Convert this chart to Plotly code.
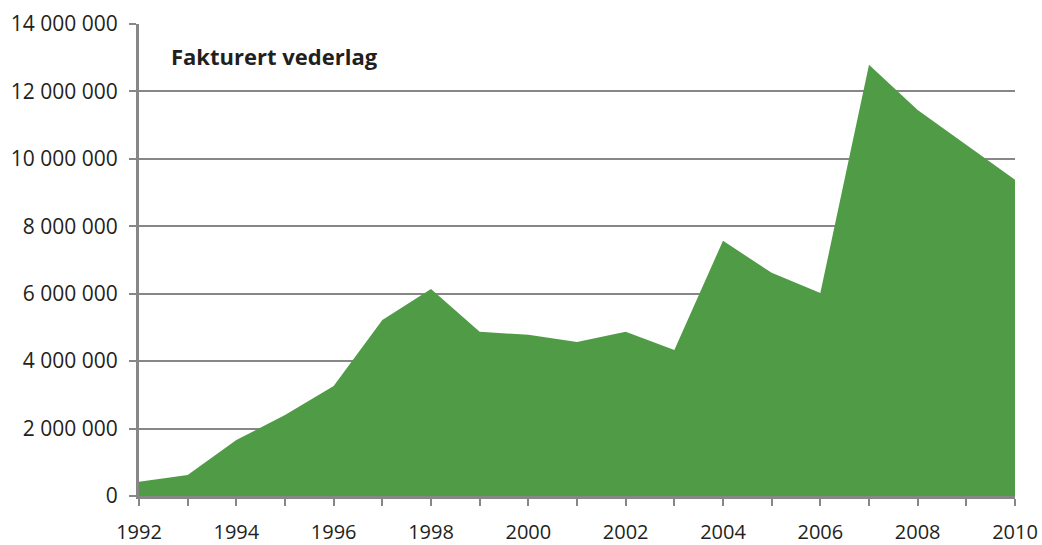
import plotly.graph_objects as go

years = list(range(1992, 2011))
values = [420000, 620000, 1660000, 2400000, 3260000, 5220000, 6140000, 4870000,
          4780000, 4570000, 4870000, 4330000, 7570000, 6620000, 6020000,
          12790000, 11450000, 10420000, 9380000]

x_tick_vals = list(range(1992, 2011, 2))
x_tick_text = [str(v) for v in x_tick_vals]
y_tick_vals = list(range(0, 14000001, 2000000))
y_tick_text = ["0", "2 000 000", "4 000 000", "6 000 000", "8 000 000",
               "10 000 000", "12 000 000", "14 000 000"]

title_text = "Fakturert vederlag"

fig = go.Figure()
fig.add_trace(go.Scatter(
    x=years, y=values, mode="lines", fill="tozeroy",
    fillcolor="#509b45", line=dict(width=0, color="#509b45"),
    hoverinfo="x+y", showlegend=False,
))

axis_gray = "#878787"
fig.update_layout(
    width=1042, height=545,
    margin=dict(l=139, r=27, t=24, b=49),
    paper_bgcolor="white", plot_bgcolor="white",
    font=dict(family="Open Sans", size=21, color="#231f20"),
    xaxis=dict(
        range=[1992, 2010], tickvals=x_tick_vals, ticktext=x_tick_text,
        ticks="outside", ticklen=7, tickwidth=2, tickcolor=axis_gray,
        minor=dict(dtick=1, tick0=1992, ticks="outside", ticklen=7, tickwidth=2, tickcolor=axis_gray),
        showgrid=False, showline=True, linecolor=axis_gray, linewidth=3,
        ticklabelstandoff=9, zeroline=False, automargin=False,
        tickfont=dict(size=20),
    ),
    yaxis=dict(
        range=[0, 14000000], tickvals=y_tick_vals, ticktext=y_tick_text,
        ticks="outside", ticklen=7, tickwidth=2, tickcolor=axis_gray,
        showgrid=True, gridcolor=axis_gray, gridwidth=2,
        showline=True, linecolor=axis_gray, linewidth=3,
        ticklabelstandoff=7, zeroline=False, automargin=False,
    ),
    annotations=[dict(
        text="<b>" + title_text + "</b>", xref="paper", yref="paper",
        x=0.034, y=0.933, xanchor="left", yanchor="middle", showarrow=False,
        font=dict(family="Open Sans", size=22, color="#231f20"),
    )],
)

fig.write_html("out.html", config={"displayModeBar": False},
               post_script="document.body.style.margin='0';")
